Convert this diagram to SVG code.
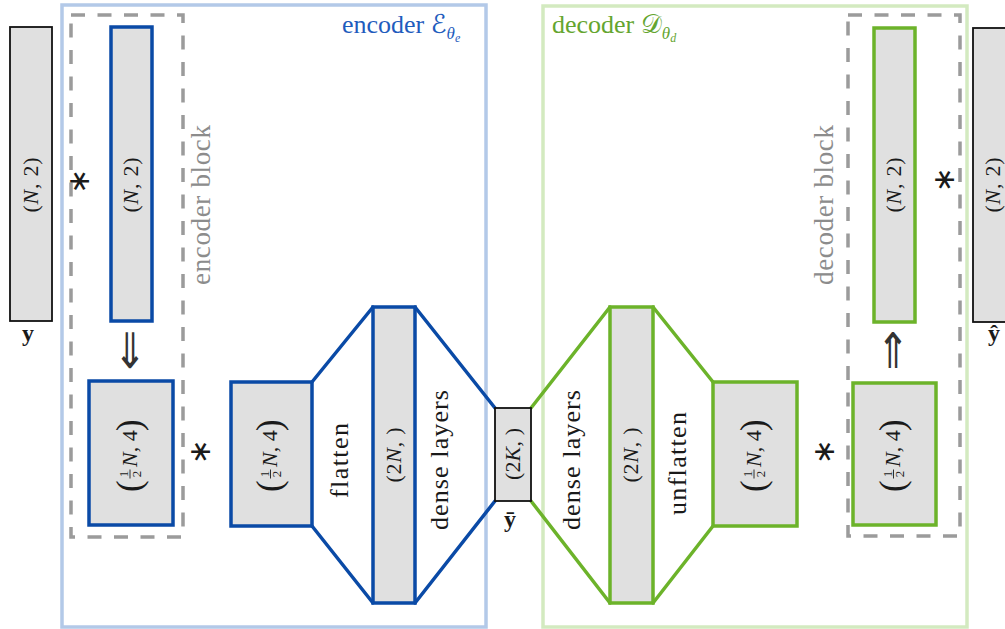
<svg xmlns="http://www.w3.org/2000/svg" width="1005" height="629" viewBox="0 0 1005 629" font-family="'Liberation Serif', 'DejaVu Serif', serif">
<style>
  text { font-family: "Liberation Serif", "DejaVu Serif", serif; fill: #1a1a1a; }
  .frame-enc { fill: none; stroke: #b3c9e8; stroke-width: 3.5; }
  .frame-dec { fill: none; stroke: #d3eac0; stroke-width: 3.5; }
  .dash { fill: none; stroke: #9b9b9b; stroke-width: 3.5; stroke-dasharray: 14 12.5; }
  .rb { fill: #e0e0e0; stroke: #0a4aa6; stroke-width: 3.5; }
  .rg { fill: #e0e0e0; stroke: #6cb32a; stroke-width: 3.5; }
  .rk { fill: #e0e0e0; stroke: #111; stroke-width: 1.8; }
  .lb { fill: none; stroke: #0a4aa6; stroke-width: 3.5; stroke-linecap: round; }
  .lg { fill: none; stroke: #6cb32a; stroke-width: 3.5; stroke-linecap: round; }
  .sz { font-size: 22px; }
  .paren { font-size: 35px; }
  .frac { font-size: 13px; text-anchor: middle; }
  .fbar { stroke: #1a1a1a; stroke-width: 0.9; }
  .word { font-size: 26px; text-anchor: middle; }
  .blk { font-size: 27px; text-anchor: middle; fill: #8c8c8c; }
  .ast { font-family: "DejaVu Sans", sans-serif; font-size: 30px; text-anchor: middle; dominant-baseline: central; }
  .arr { font-family: "DejaVu Sans", sans-serif; font-size: 28px; text-anchor: middle; fill: #333; }
  .vec { font-size: 24px; font-weight: bold; text-anchor: middle; }
  .it { font-style: italic; }
</style>

<!-- frames -->
<g id="encoder-frame">
  <rect class="frame-enc" x="62" y="5" width="424" height="622"/>
  <text x="342" y="33" font-size="26" style="fill:#1f5cbd">encoder <tspan font-family="DejaVu Serif, DejaVu Sans, serif" font-style="italic" style="fill:#1f5cbd">ℰ</tspan><tspan class="it" font-size="17" dy="6" style="fill:#1f5cbd">θ</tspan><tspan class="it" font-size="12" dy="3" style="fill:#1f5cbd">e</tspan></text>
</g>
<g id="decoder-frame">
  <rect class="frame-dec" x="543" y="6" width="424" height="621"/>
  <text x="552" y="33" font-size="26" style="fill:#64a52f">decoder <tspan font-family="DejaVu Serif, DejaVu Sans, serif" style="fill:#64a52f">𝒟</tspan><tspan class="it" font-size="17" dy="6" style="fill:#64a52f">θ</tspan><tspan class="it" font-size="12" dy="3" style="fill:#64a52f">d</tspan></text>
</g>

<!-- connectors -->
<g id="connectors">
  <line class="lb" x1="312" y1="382" x2="373" y2="307"/>
  <line class="lb" x1="312" y1="526" x2="373" y2="603"/>
  <line class="lb" x1="415" y1="307" x2="495" y2="408"/>
  <line class="lb" x1="415" y1="603" x2="495" y2="501"/>
  <line class="lg" x1="531" y1="408" x2="610" y2="307"/>
  <line class="lg" x1="531" y1="501" x2="610" y2="603"/>
  <line class="lg" x1="653" y1="307" x2="713" y2="382"/>
  <line class="lg" x1="653" y1="603" x2="713" y2="526"/>
</g>

<!-- input y -->
<g id="input-y">
  <rect class="rk" x="10" y="27" width="42" height="294"/>
  <text class="sz" text-anchor="middle" transform="translate(31,185) rotate(-90)" y="6.5" textLength="55">(<tspan class="it">N</tspan>, 2)</text>
  <text class="vec" x="28" y="341">y</text>
</g>

<!-- encoder block -->
<g id="encoder-block">
  <rect class="dash" x="71" y="15" width="112" height="522"/>
  <text class="blk" transform="translate(210,205) rotate(-90)" textLength="160">encoder block</text>
  <text class="ast" transform="translate(78.5,181.5) rotate(-90)">∗</text>
  <rect class="rb" x="111" y="27" width="41" height="294"/>
  <text class="sz" text-anchor="middle" transform="translate(131.5,185) rotate(-90)" y="6.5" textLength="55">(<tspan class="it">N</tspan>, 2)</text>
  <text class="arr" transform="translate(130,368) scale(1.4,1.75)">⇓</text>
  <rect class="rb" x="89" y="381" width="84" height="144"/>
  <g transform="translate(131,455) rotate(-90)">
    <text class="paren" x="-37" y="9.5">(</text>
    <text class="frac" x="-19" y="-3">1</text>
    <line class="fbar" x1="-23.5" y1="-1" x2="-14.5" y2="-1"/>
    <text class="frac" x="-19" y="9.5">2</text>
    <text class="sz" x="-12" y="5.5"><tspan class="it">N</tspan>, 4</text>
    <text class="paren" x="24" y="9.5">)</text>
  </g>
</g>

<text class="ast" transform="translate(199,452) rotate(-90)">∗</text>

<!-- encoder stage (1/2N,4) -->
<g id="enc-conv">
  <rect class="rb" x="231" y="382" width="81" height="144"/>
  <g transform="translate(271.5,455) rotate(-90)">
    <text class="paren" x="-37" y="9.5">(</text>
    <text class="frac" x="-19" y="-3">1</text>
    <line class="fbar" x1="-23.5" y1="-1" x2="-14.5" y2="-1"/>
    <text class="frac" x="-19" y="9.5">2</text>
    <text class="sz" x="-12" y="5.5"><tspan class="it">N</tspan>, 4</text>
    <text class="paren" x="24" y="9.5">)</text>
  </g>
</g>

<text class="word" transform="translate(348,460.5) rotate(-90)" textLength="75">flatten</text>

<g id="enc-flat">
  <rect class="rb" x="373" y="307" width="42" height="296"/>
  <text class="sz" text-anchor="middle" transform="translate(394,455) rotate(-90)" y="6.5" textLength="55">(2<tspan class="it">N</tspan>, )</text>
</g>

<text class="word" transform="translate(448,460) rotate(-90)" textLength="140">dense layers</text>

<!-- latent -->
<g id="latent">
  <rect class="rk" x="495" y="408" width="36" height="93"/>
  <text class="sz" text-anchor="middle" transform="translate(513,454) rotate(-90)" y="6.5" textLength="52">(2<tspan class="it">K</tspan>, )</text>
  <text class="vec" x="510" y="527" font-size="22">ȳ</text>
</g>

<text class="word" transform="translate(580,460) rotate(-90)" textLength="140">dense layers</text>

<g id="dec-flat">
  <rect class="rg" x="610" y="307" width="43" height="296"/>
  <text class="sz" text-anchor="middle" transform="translate(631.5,455) rotate(-90)" y="6.5" textLength="55">(2<tspan class="it">N</tspan>, )</text>
</g>

<text class="word" transform="translate(686,463.5) rotate(-90)" textLength="103">unflatten</text>

<g id="dec-conv">
  <rect class="rg" x="713" y="382" width="84" height="144"/>
  <g transform="translate(755,455) rotate(-90)">
    <text class="paren" x="-37" y="9.5">(</text>
    <text class="frac" x="-19" y="-3">1</text>
    <line class="fbar" x1="-23.5" y1="-1" x2="-14.5" y2="-1"/>
    <text class="frac" x="-19" y="9.5">2</text>
    <text class="sz" x="-12" y="5.5"><tspan class="it">N</tspan>, 4</text>
    <text class="paren" x="24" y="9.5">)</text>
  </g>
</g>

<text class="ast" transform="translate(823,452) rotate(-90)">∗</text>

<!-- decoder block -->
<g id="decoder-block">
  <rect class="dash" x="848" y="15" width="112" height="521"/>
  <text class="blk" transform="translate(833,205) rotate(-90)" textLength="160">decoder block</text>
  <rect class="rg" x="874" y="28" width="41" height="294"/>
  <text class="sz" text-anchor="middle" transform="translate(894.5,185) rotate(-90)" y="6.5" textLength="55">(<tspan class="it">N</tspan>, 2)</text>
  <text class="arr" transform="translate(893,368) scale(1.4,1.75)">⇑</text>
  <rect class="rg" x="853" y="383" width="83" height="142"/>
  <g transform="translate(894.5,455) rotate(-90)">
    <text class="paren" x="-37" y="9.5">(</text>
    <text class="frac" x="-19" y="-3">1</text>
    <line class="fbar" x1="-23.5" y1="-1" x2="-14.5" y2="-1"/>
    <text class="frac" x="-19" y="9.5">2</text>
    <text class="sz" x="-12" y="5.5"><tspan class="it">N</tspan>, 4</text>
    <text class="paren" x="24" y="9.5">)</text>
  </g>
  <text class="ast" transform="translate(943,180) rotate(-90)">∗</text>
</g>

<!-- output y-hat -->
<g id="output-yhat">
  <rect class="rk" x="973" y="28" width="42" height="294"/>
  <text class="sz" text-anchor="middle" transform="translate(993.5,185) rotate(-90)" y="6.5" textLength="55">(<tspan class="it">N</tspan>, 2)</text>
  <text class="vec" x="994" y="341">ŷ</text>
</g>
</svg>
